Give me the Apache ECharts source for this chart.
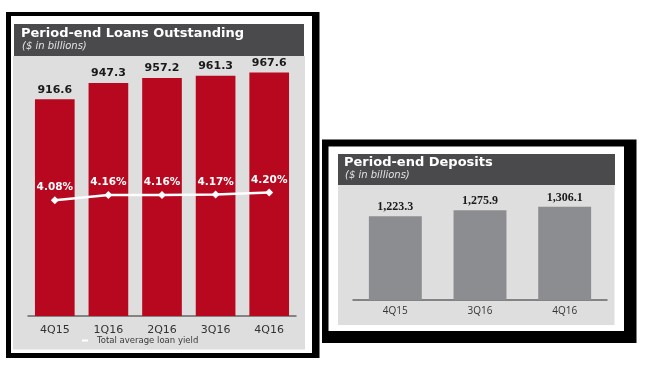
<!DOCTYPE html>
<html>
<head>
<meta charset="utf-8">
<script src="https://cdn.jsdelivr.net/npm/echarts@6/dist/echarts.min.js"></script>
<style>
html,body{margin:0;padding:0;background:#fff;}
#c{width:648px;height:369px;}
</style>
</head>
<body>
<div id="c"></div>
<script>
// ---- data ----
const loanQuarters = ['4Q15', '1Q16', '2Q16', '3Q16', '4Q16'];
const loansOutstanding = [916.6, 947.3, 957.2, 961.3, 967.6];
const loanYield = [4.08, 4.16, 4.16, 4.17, 4.20];
const depositQuarters = ['4Q15', '3Q16', '4Q16'];
const deposits = [1223.3, 1275.9, 1306.1];
const loanTitle = 'Period-end Loans Outstanding';
const depositTitle = 'Period-end Deposits';
const unitText = '($ in billions)';
const yieldName = 'Total average loan yield';

const RED = '#b8081f';
const DARK = '#4a4a4c';
const PLOT = '#dedede';
const GRAYBAR = '#8c8d90';

const chart = echarts.init(document.getElementById('c'), null, {renderer: 'canvas'});

function fmtDep(v) {
  return v.toLocaleString('en-US', {minimumFractionDigits: 1, maximumFractionDigits: 1});
}

const option = {
  animation: false,
  backgroundColor: '#ffffff',
  graphic: [
    // left panel frame
    {type: 'rect', z: 0, shape: {x: 6, y: 12, width: 313.5, height: 346}, style: {fill: '#000'}},
    {type: 'rect', z: 0, shape: {x: 11, y: 16, width: 301, height: 337}, style: {fill: '#fff'}},
    {type: 'rect', z: 0, shape: {x: 14, y: 24, width: 290, height: 32}, style: {fill: DARK}},
    {type: 'rect', z: 0, shape: {x: 13, y: 56, width: 292, height: 293.5}, style: {fill: PLOT}},
    // right panel frame
    {type: 'rect', z: 0, shape: {x: 322, y: 139.5, width: 314.5, height: 203.5}, style: {fill: '#000'}},
    {type: 'rect', z: 0, shape: {x: 328.5, y: 146.5, width: 295.5, height: 184.5}, style: {fill: '#fff'}},
    {type: 'rect', z: 0, shape: {x: 338, y: 154, width: 277, height: 31}, style: {fill: DARK}},
    {type: 'rect', z: 0, shape: {x: 338, y: 185, width: 276.5, height: 140}, style: {fill: PLOT}}
  ],
  title: [
    {text: loanTitle, left: 21, top: 27, padding: 0, z: 10,
     textStyle: {fontFamily: 'DejaVu Sans', fontWeight: 'bold', fontSize: 13, color: '#ffffff'}},
    {text: unitText, left: 22, top: 41, padding: 0, z: 10,
     textStyle: {fontFamily: 'DejaVu Sans', fontStyle: 'italic', fontWeight: 'normal', fontSize: 10, color: '#e4e4e4'}},
    {text: depositTitle, left: 344, top: 156, padding: 0, z: 10,
     textStyle: {fontFamily: 'DejaVu Sans', fontWeight: 'bold', fontSize: 13, color: '#ffffff'}},
    {text: unitText, left: 345, top: 170.5, padding: 0, z: 10,
     textStyle: {fontFamily: 'DejaVu Sans', fontStyle: 'italic', fontWeight: 'normal', fontSize: 10, color: '#e4e4e4'}}
  ],
  legend: {
    data: [yieldName],
    left: 82, top: 336, padding: 0,
    icon: 'rect', itemWidth: 6, itemHeight: 2,
    itemStyle: {color: '#ffffff'},
    textStyle: {fontFamily: 'DejaVu Sans', fontSize: 8.5, color: '#3a3a3a', padding: [0, 0, 0, 4]}
  },
  grid: [
    {left: 28, right: 352, top: 60, bottom: 53},
    {left: 353, right: 41, top: 190, bottom: 69}
  ],
  xAxis: [
    {type: 'category', gridIndex: 0, data: loanQuarters,
     axisLine: {show: true, lineStyle: {color: '#666666', width: 1.5}},
     axisTick: {show: false},
     axisLabel: {margin: 9, fontFamily: 'DejaVu Sans', fontSize: 11, color: '#333333'}},
    {type: 'category', gridIndex: 1, data: depositQuarters,
     axisLine: {show: true, lineStyle: {color: '#666666', width: 1.5}},
     axisTick: {show: false},
     axisLabel: {margin: 6, fontFamily: 'Open Sans', fontSize: 10, color: '#333333'}}
  ],
  yAxis: [
    {type: 'value', gridIndex: 0, min: 507, max: 991, show: false, splitLine: {show: false}},
    {type: 'value', gridIndex: 0, min: 2.27, max: 6.27, show: false, splitLine: {show: false}},
    {type: 'value', gridIndex: 1, min: 490, max: 1452, show: false, splitLine: {show: false}}
  ],
  series: [
    {type: 'bar', name: 'Loans', xAxisIndex: 0, yAxisIndex: 0, data: loansOutstanding,
     barWidth: '74%', itemStyle: {color: RED},
     label: {show: true, position: 'top', distance: 4, fontFamily: 'DejaVu Sans', fontWeight: 'bold',
             fontSize: 11, color: '#1a1a1a', formatter: p => p.value.toFixed(1)}},
    {type: 'line', name: yieldName, xAxisIndex: 0, yAxisIndex: 1, data: loanYield,
     color: '#ffffff', lineStyle: {color: '#ffffff', width: 2.5},
     symbol: 'diamond', symbolSize: 8, itemStyle: {color: '#ffffff'},
     label: {show: true, position: 'top', distance: 3, fontFamily: 'DejaVu Sans', fontWeight: 'bold',
             fontSize: 10.5, color: '#ffffff', formatter: p => p.value.toFixed(2) + '%'}},
    {type: 'bar', name: 'Deposits', xAxisIndex: 1, yAxisIndex: 2, data: deposits,
     barWidth: '62.5%', itemStyle: {color: GRAYBAR},
     label: {show: true, position: 'top', distance: 3, fontFamily: 'Liberation Serif', fontWeight: 'bold',
             fontSize: 12, color: '#1a1a1a', formatter: p => fmtDep(p.value)}}
  ]
};
chart.setOption(option);
</script>
</body>
</html>
